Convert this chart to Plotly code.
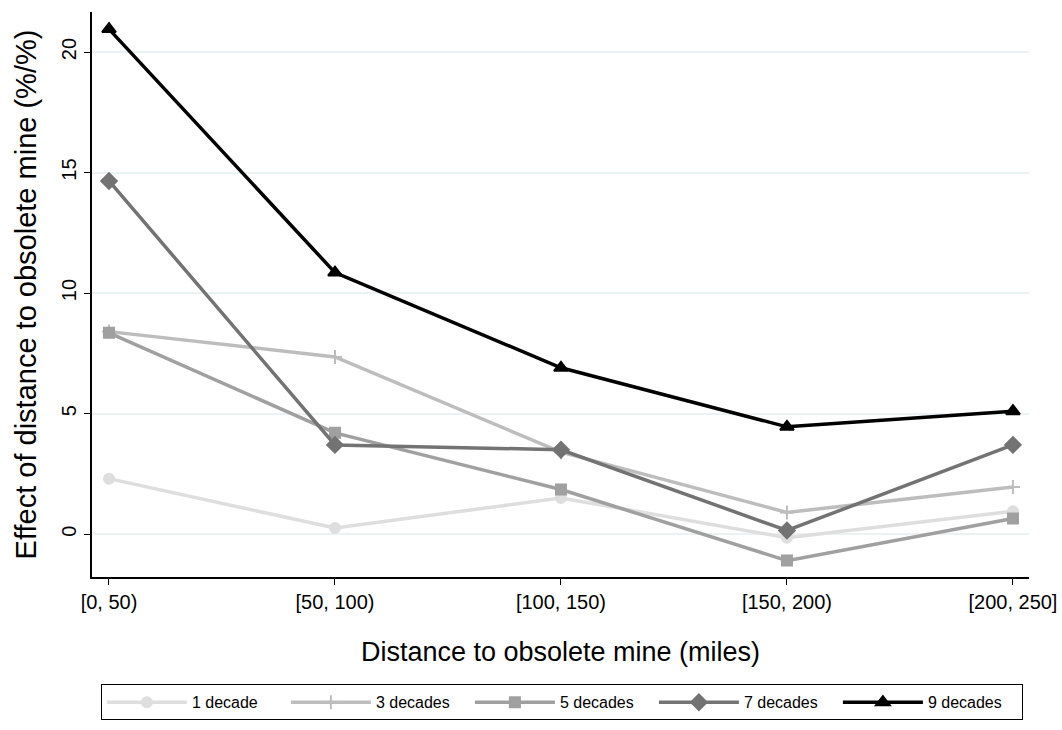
import plotly.graph_objects as go

# Distance bins (miles) and estimated effects (%/%) by horizon
bins = ["[0, 50)", "[50, 100)", "[100, 150)", "[150, 200)", "[200, 250]"]
decade_1 = [2.3, 0.25, 1.5, -0.15, 0.95]
decade_3 = [8.4, 7.35, 3.4, 0.9, 1.95]
decade_5 = [8.35, 4.2, 1.85, -1.1, 0.65]
decade_7 = [14.65, 3.7, 3.5, 0.15, 3.7]
decade_9 = [20.95, 10.85, 6.9, 4.45, 5.1]

series = [
    ("1 decade", decade_1, "#dedede", "circle", 10),
    ("3 decades", decade_3, "#bdbdbd", "cross-thin", 10),
    ("5 decades", decade_5, "#a0a0a0", "square", 10),
    ("7 decades", decade_7, "#737373", "diamond", 12),
    ("9 decades", decade_9, "#000000", "triangle-up", 12),
]

font_family = "Liberation Sans, Arial, sans-serif"
x_pos = list(range(len(bins)))

fig = go.Figure()
for name, vals, color, symbol, size in series:
    fig.add_trace(go.Scatter(
        x=x_pos, y=vals, name=name, mode="lines+markers",
        line=dict(color=color, width=3.5),
        marker=dict(color=color, symbol=symbol, size=size,
                    line=dict(color=color, width=2)),
    ))

fig.update_layout(
    width=1062, height=730,
    margin=dict(l=92, r=33, t=12, b=153, autoexpand=False),
    paper_bgcolor="white", plot_bgcolor="white",
    font=dict(family=font_family, color="black"),
    showlegend=True,
    legend=dict(
        orientation="h", x=0.0095, xanchor="left", y=-0.19, yanchor="top",
        bordercolor="black", borderwidth=1,
        font=dict(size=16, family=font_family),
        itemwidth=80,
        entrywidth=89, entrywidthmode="pixels",
        traceorder="normal",
    ),
)

fig.update_xaxes(
    range=[-0.0752, 4.071], automargin=False,
    tickmode="array", tickvals=x_pos, ticktext=bins,
    showline=True, linecolor="black", linewidth=1.5,
    ticks="outside", ticklen=6, tickcolor="black",
    showgrid=False, zeroline=False,
    tickfont=dict(size=20),
    title=dict(text="Distance to obsolete mine (miles)", font=dict(size=27), standoff=30),
)

fig.update_yaxes(
    range=[-1.78, 21.66], automargin=False,
    tickmode="array", tickvals=[0, 5, 10, 15, 20],
    showline=True, linecolor="black", linewidth=1.5,
    ticks="outside", ticklen=6, tickcolor="black",
    showgrid=True, gridcolor="#eaf2f3", gridwidth=2,
    zeroline=False,
    tickangle=-90, tickfont=dict(size=20),
    title=dict(text="Effect of distance to obsolete mine (%/%)", font=dict(size=29), standoff=13),
)

fig.write_html("out.html")
